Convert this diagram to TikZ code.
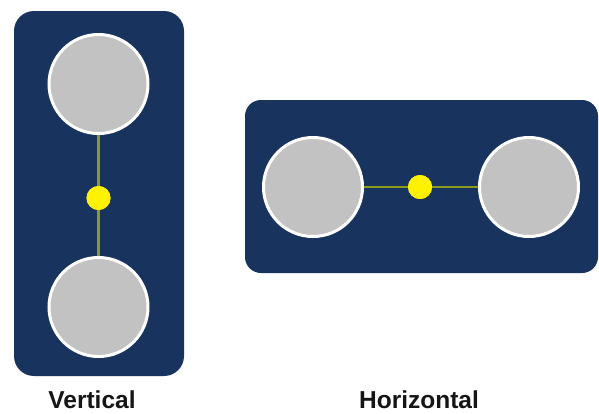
\documentclass[tikz,border=0pt]{standalone}
\usepackage{fontspec}
\setmainfont{Liberation Sans}
\definecolor{navy}{HTML}{17335E}
\definecolor{knob}{HTML}{C2C2C2}
\definecolor{olive}{HTML}{8C9A1E}
\definecolor{textdark}{HTML}{151515}
\begin{document}
\begin{tikzpicture}[x=1pt,y=-1pt,
  panel/.style={fill=navy,draw=none},
  knobnode/.style={circle,fill=knob,draw=white,line width=3pt,minimum size=99pt,inner sep=0pt},
  dotnode/.style={circle,fill=yellow,draw=none,minimum size=24pt,inner sep=0pt},
  link/.style={draw=olive,line width=2.5pt},
  caption/.style={font=\bfseries\fontsize{24.5}{28}\selectfont,text=textdark,anchor=base,inner sep=1pt}]
\useasboundingbox (0,0) rectangle (599,413);
\fill[white] (0,0) rectangle (599,413);
% vertical panel
\path[panel,rounded corners=20pt] (14,11) rectangle (184,376);
\node[knobnode] (vtop) at (98.5,84) {};
\node[knobnode] (vbot) at (98.5,307) {};
\node[dotnode] (vdot) at (98.5,198) {};
\draw[link] (vtop) -- (vdot);
\draw[link] (vdot) -- (vbot);
\node[dotnode] at (vdot) {};
% horizontal panel
\path[panel,rounded corners=16pt] (245,100) rectangle (598,273);
\node[knobnode] (hleft) at (313,187) {};
\node[knobnode] (hright) at (529,187) {};
\node[dotnode] (hdot) at (420,187) {};
\draw[link] (hleft) -- (hdot);
\draw[link] (hdot) -- (hright);
\node[dotnode] at (hdot) {};
% captions
\node[caption] (vcap) at (92,408) {Vertical};
\node[caption] (hcap) at (419,408) {Horizontal};
\end{tikzpicture}
\end{document}
